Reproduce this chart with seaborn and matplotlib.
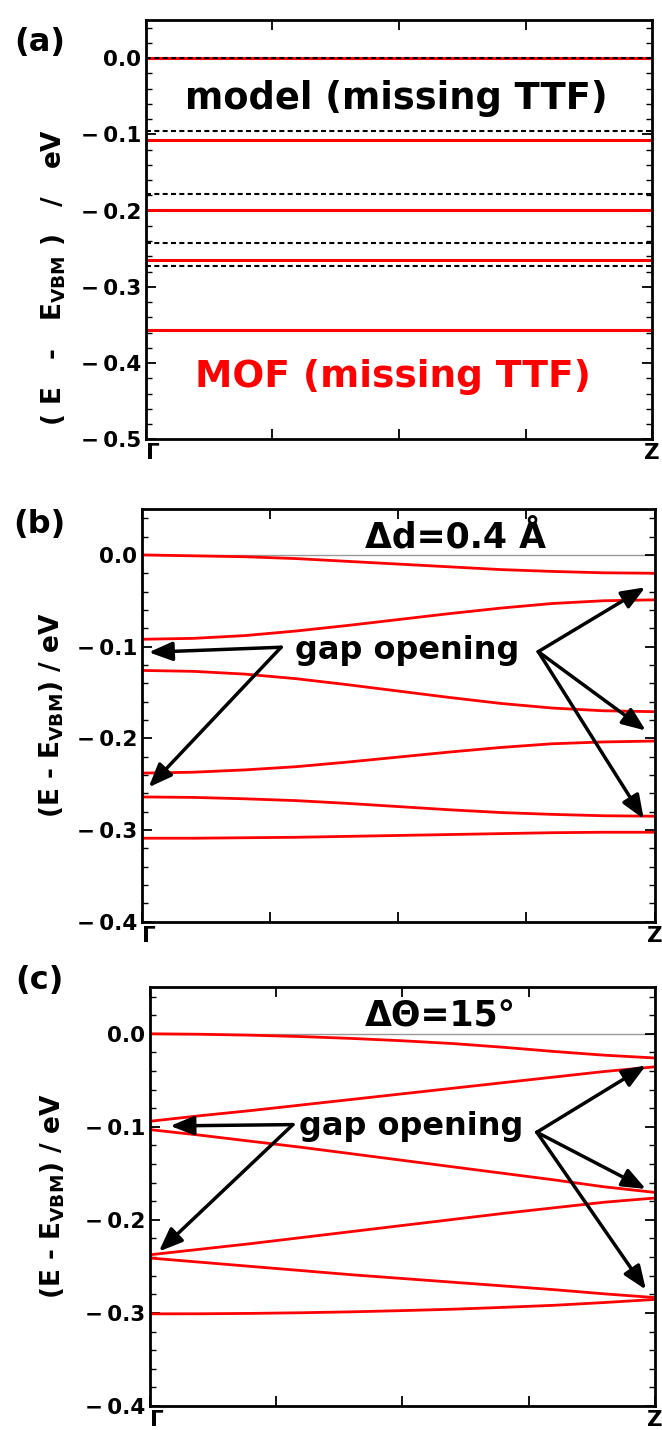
import numpy as np
import pandas as pd
import matplotlib
matplotlib.use("Agg")
import matplotlib.pyplot as plt
from matplotlib.ticker import MultipleLocator, FuncFormatter
import seaborn as sns

# ----------------------------------------------------------
# Data (energies in eV, k from Gamma=0 to Z=1)
# ----------------------------------------------------------
# (a) flat bands: MOF (red) and model (black dashed)
mof_levels = [0.0, -0.108, -0.199, -0.265, -0.357]
model_levels = [0.0, -0.095, -0.178, -0.243, -0.273]

k_path = [0.0, 0.1, 0.2, 0.3, 0.4, 0.5, 0.6, 0.7, 0.8, 0.9, 1.0]

# (b) delta d = 0.4 A
bands_b = [
    [0.000, -0.001, -0.002, -0.004, -0.007, -0.010, -0.013, -0.016, -0.018, -0.0195, -0.020],
    [-0.092, -0.091, -0.088, -0.083, -0.077, -0.0705, -0.064, -0.058, -0.053, -0.050, -0.049],
    [-0.126, -0.127, -0.130, -0.135, -0.1415, -0.1485, -0.1555, -0.162, -0.167, -0.170, -0.171],
    [-0.238, -0.237, -0.2345, -0.231, -0.226, -0.2205, -0.215, -0.210, -0.206, -0.204, -0.203],
    [-0.264, -0.2645, -0.266, -0.268, -0.271, -0.2745, -0.278, -0.281, -0.283, -0.2845, -0.285],
    [-0.309, -0.309, -0.3085, -0.308, -0.307, -0.306, -0.305, -0.304, -0.303, -0.3025, -0.3025],
]

# (c) delta theta = 15 deg
bands_c = [
    [0.000, -0.0005, -0.0015, -0.003, -0.005, -0.0075, -0.0105, -0.0145, -0.019, -0.023, -0.026],
    [-0.094, -0.088, -0.0825, -0.0765, -0.0705, -0.0645, -0.0585, -0.0525, -0.0465, -0.0405, -0.0355],
    [-0.103, -0.109, -0.1155, -0.122, -0.129, -0.136, -0.143, -0.150, -0.157, -0.1645, -0.1705],
    [-0.2375, -0.2315, -0.2255, -0.219, -0.2125, -0.206, -0.1995, -0.193, -0.187, -0.181, -0.1765],
    [-0.241, -0.2455, -0.250, -0.2545, -0.259, -0.263, -0.267, -0.271, -0.275, -0.2795, -0.2835],
    [-0.301, -0.3009, -0.3005, -0.2998, -0.2988, -0.2975, -0.296, -0.294, -0.2918, -0.2888, -0.2855],
]

# arrows: (origin, [tips]) in (k, E)
arrows_b = [((0.271, -0.1007), [(0.0124, -0.1062), (0.0124, -0.2535)]),
            ((0.773, -0.1055), [(0.982, -0.0353), (0.983, -0.1916), (0.979, -0.288)])]
arrows_c = [((0.283, -0.0976), [(0.040, -0.0990), (0.0176, -0.234)]),
            ((0.766, -0.1058), [(0.982, -0.0341), (0.982, -0.1668), (0.982, -0.275)])]

# ----------------------------------------------------------
# Style
# ----------------------------------------------------------
sns.set_style("ticks")
plt.rcParams["font.family"] = ["DejaVu Sans"]
plt.rcParams["font.weight"] = "bold"
plt.rcParams["axes.labelweight"] = "bold"
plt.rcParams["axes.linewidth"] = 2.0
for key in ["text.color", "axes.labelcolor", "xtick.color", "ytick.color", "axes.edgecolor"]:
    plt.rcParams[key] = "black"

YLABEL = r"(E - E$_{\mathbf{VBM}}$) / eV"
YLABEL_A = r"( E   -   E$_{\mathbf{VBM}}$ )   /   eV"


def level_frame(levels):
    rows = []
    for i, e in enumerate(levels):
        rows.append({"k": 0.0, "E": e, "band": i})
        rows.append({"k": 1.0, "E": e, "band": i})
    return pd.DataFrame(rows)


def band_frame(bands):
    rows = []
    for i, b in enumerate(bands):
        for k, e in zip(k_path, b):
            rows.append({"k": k, "E": e, "band": i})
    return pd.DataFrame(rows)


def fmt_energy(v, pos):
    if abs(v) < 1e-9:
        return "0.0"
    return ("\u2212\u2009" if v < 0 else "") + f"{abs(v):.1f}"


def style_axis(ax, ymin, ymax, ylabel, label_xy):
    ax.set_xlim(0, 1)
    ax.set_ylim(ymin, ymax)
    ax.set_xticks([0, 0.25, 0.5, 0.75, 1.0])
    ax.set_xticklabels(["Γ", "", "", "", "Z"], fontsize=16, fontweight="bold")
    ax.get_xticklabels()[0].set_horizontalalignment("left")
    ax.yaxis.set_major_locator(MultipleLocator(0.1))
    ax.yaxis.set_minor_locator(MultipleLocator(0.02))
    ax.yaxis.set_major_formatter(FuncFormatter(fmt_energy))
    ax.tick_params(axis="both", which="major", direction="in", length=7, width=1.3,
                   top=True, right=True, labelsize=15.5)
    ax.tick_params(axis="x", which="major", pad=3)
    ax.tick_params(axis="y", which="minor", direction="in", length=4, width=1.0,
                   left=True, right=True)
    ax.set_xlabel("")
    ax.set_ylabel(ylabel, fontsize=19, fontweight="bold")
    ax.yaxis.set_label_coords(*label_xy)
    for sp in ax.spines.values():
        sp.set_linewidth(2.0)


def draw_arrows(ax, arrows):
    for origin, tips in arrows:
        for tip in tips:
            ax.annotate("", xy=tip, xytext=origin,
                        arrowprops=dict(arrowstyle="-|>,head_length=0.55,head_width=0.22",
                                        color="black", lw=2.5, mutation_scale=26,
                                        shrinkA=0, shrinkB=0))


fig = plt.figure(figsize=(6.62, 14.30), dpi=100)
ax_a = fig.add_axes([0.2205, 0.6928, 0.7645, 0.2932])
ax_b = fig.add_axes([0.215, 0.3555, 0.7737, 0.2885])
ax_c = fig.add_axes([0.2266, 0.0168, 0.7628, 0.2928])

# ----------------------------------------------------------
# (a)
# ----------------------------------------------------------
sns.lineplot(data=level_frame(mof_levels), x="k", y="E", units="band", estimator=None,
             color="red", lw=2.2, ax=ax_a)
sns.lineplot(data=level_frame(model_levels), x="k", y="E", units="band", estimator=None,
             color="black", lw=1.5, linestyle=(0, (2.4, 1.6)), ax=ax_a)
style_axis(ax_a, -0.5, 0.05, YLABEL_A, (-0.155, 0.385))
ax_a.text(0.494, -0.0525, "model (missing TTF)", fontsize=26.5, fontweight="bold",
          ha="center", va="center", color="black")
ax_a.text(0.488, -0.418, "MOF (missing TTF)", fontsize=27, fontweight="bold",
          ha="center", va="center", color="red")

# ----------------------------------------------------------
# (b)
# ----------------------------------------------------------
ax_b.axhline(0, color="0.6", lw=1.0, zorder=0)
sns.lineplot(data=band_frame(bands_b), x="k", y="E", units="band", estimator=None,
             color="red", lw=2.0, ax=ax_b)
style_axis(ax_b, -0.4, 0.05, YLABEL, (-0.15, 0.5))
ax_b.text(0.434, 0.0193, "Δd=0.4 Å", fontsize=25, fontweight="bold",
          ha="left", va="center")
ax_b.text(0.518, -0.104, "gap opening", fontsize=23, fontweight="bold",
          ha="center", va="center")
draw_arrows(ax_b, arrows_b)

# ----------------------------------------------------------
# (c)
# ----------------------------------------------------------
ax_c.axhline(0, color="0.6", lw=1.0, zorder=0)
sns.lineplot(data=band_frame(bands_c), x="k", y="E", units="band", estimator=None,
             color="red", lw=2.0, ax=ax_c)
style_axis(ax_c, -0.4, 0.05, YLABEL, (-0.165, 0.5))
ax_c.text(0.426, 0.019, "ΔΘ=15°", fontsize=25, fontweight="bold",
          ha="left", va="center")
ax_c.text(0.518, -0.0994, "gap opening", fontsize=23, fontweight="bold",
          ha="center", va="center")
draw_arrows(ax_c, arrows_c)

# panel labels
for lab, y in [("(a)", 43), ("(b)", 525), ("(c)", 980)]:
    fig.text(0.06, 1 - y / 1430, lab, fontsize=23, fontweight="bold",
             ha="center", va="center")

fig.savefig("out.png", dpi=100)
